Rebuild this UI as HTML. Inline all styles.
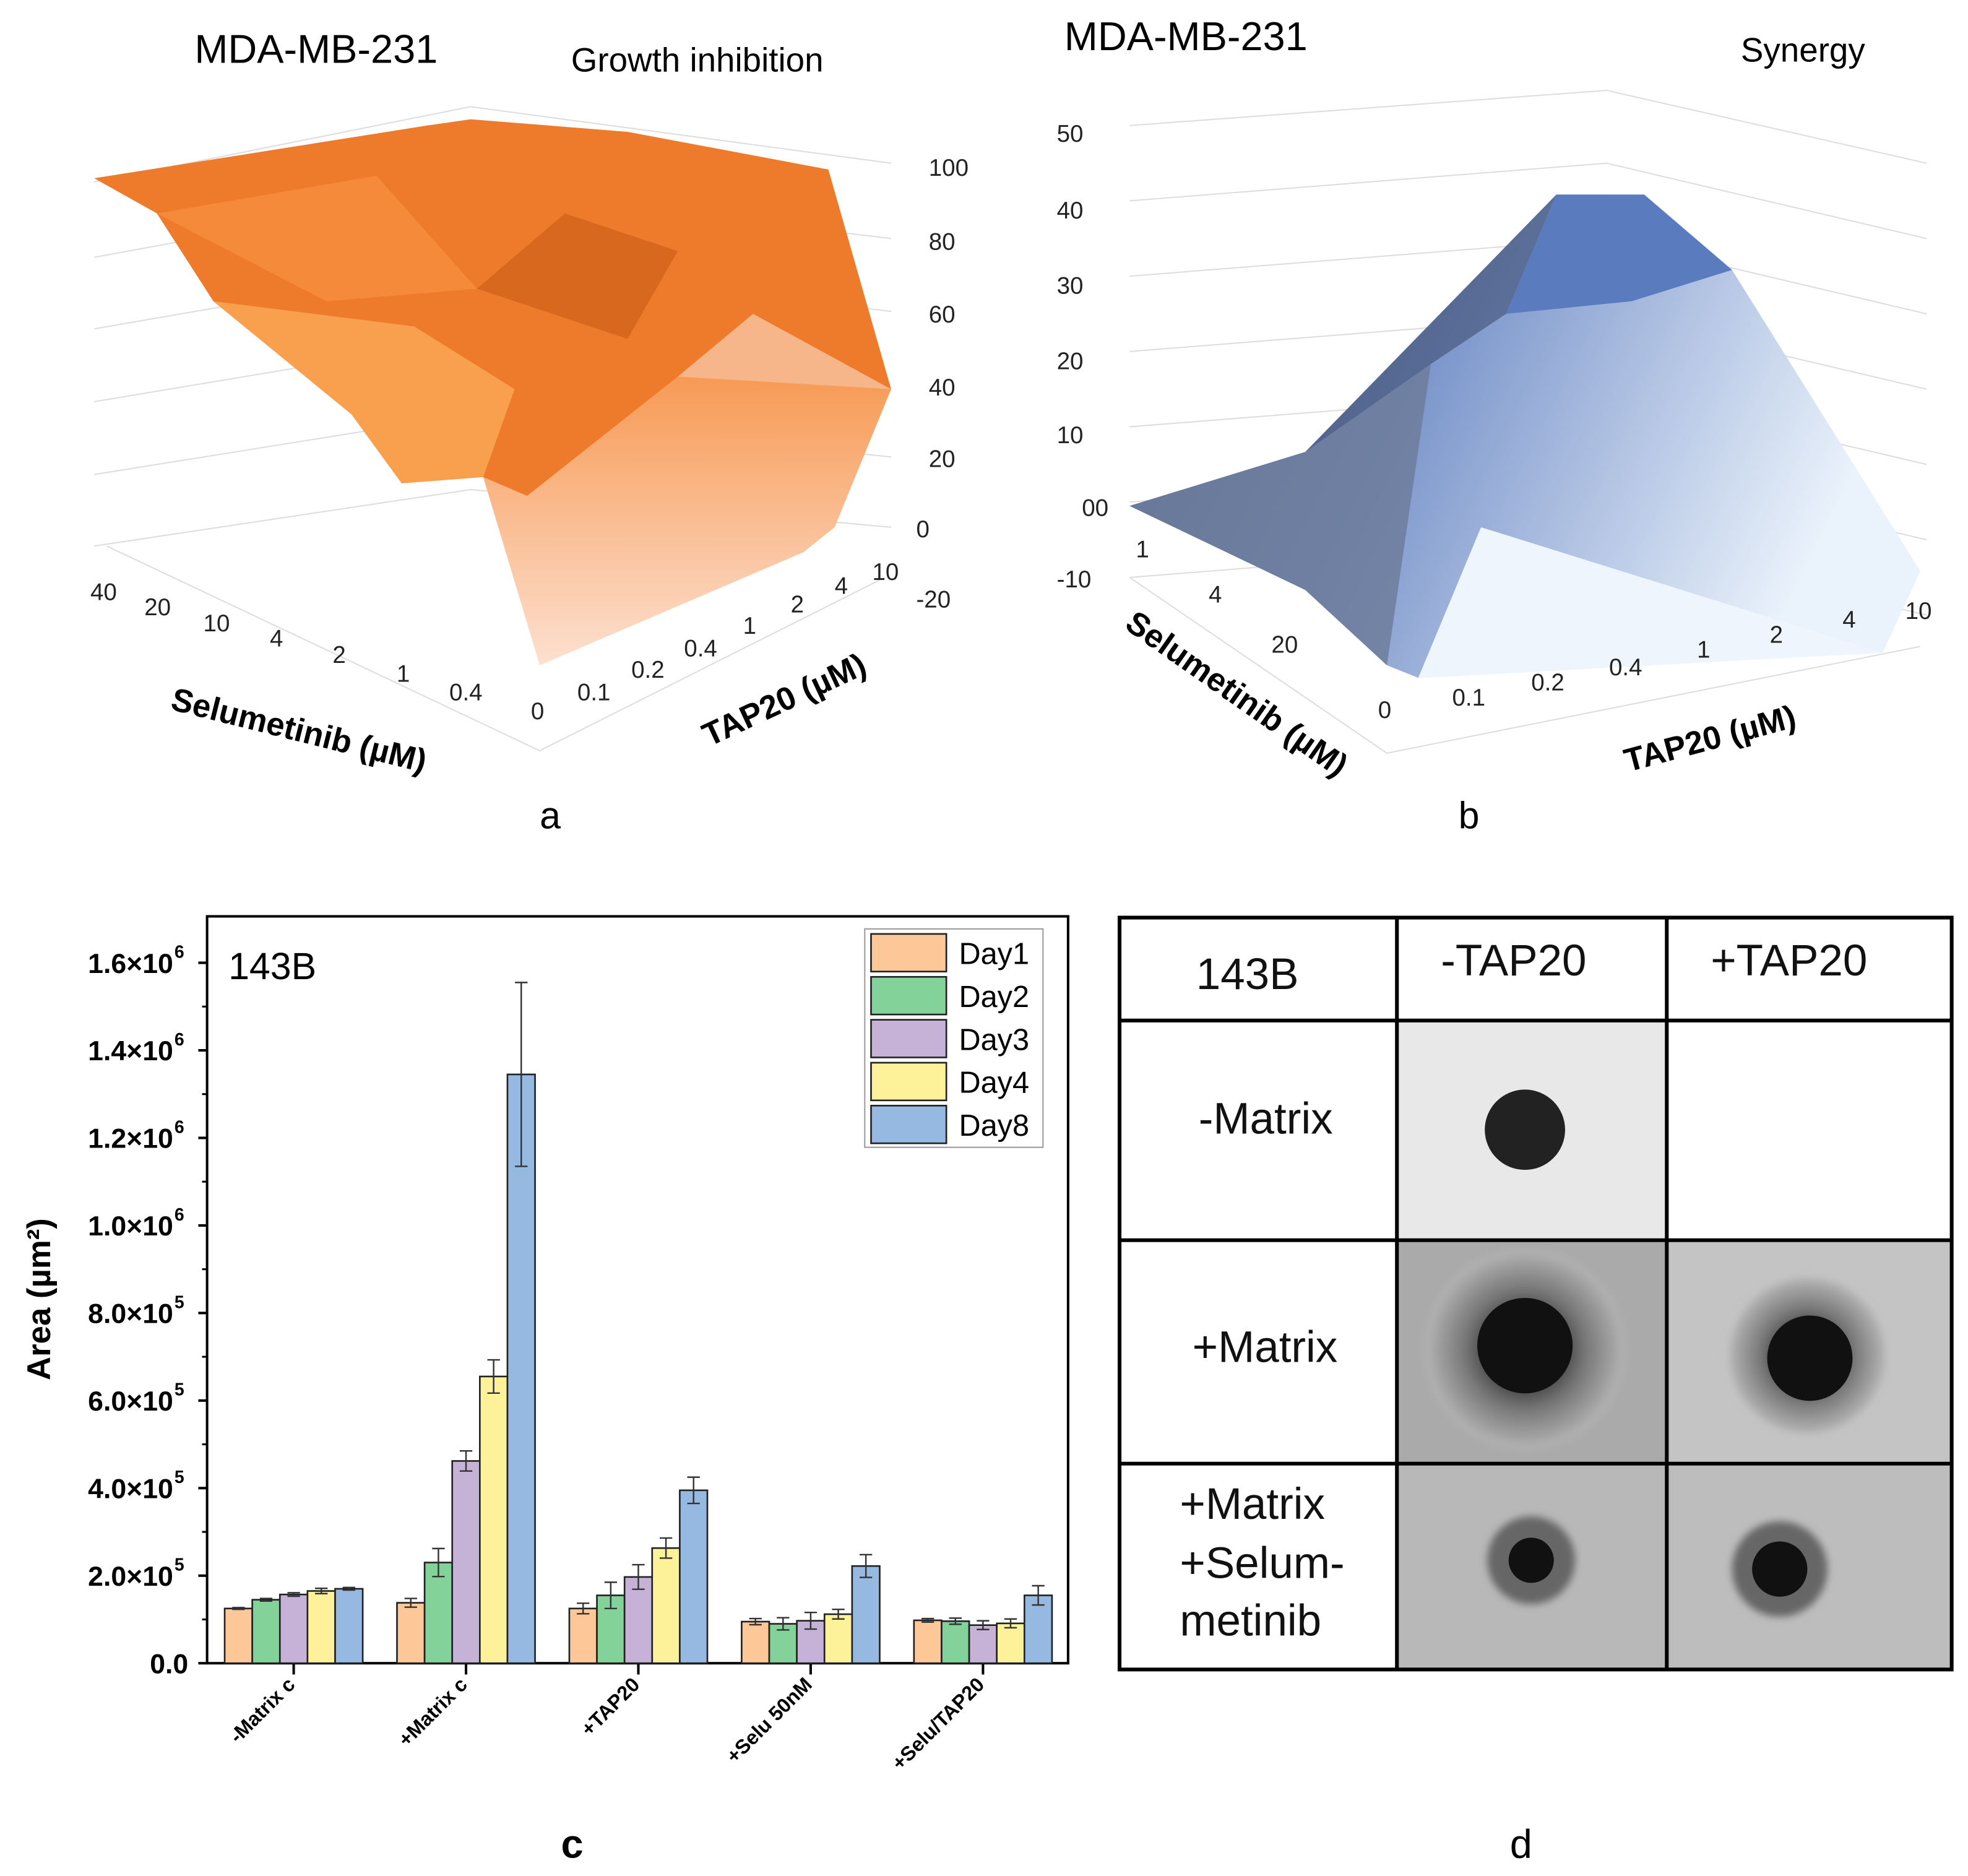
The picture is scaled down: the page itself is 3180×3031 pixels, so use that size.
<!DOCTYPE html>
<html><head><meta charset="utf-8"><style>html,body{margin:0;padding:0;background:#fff}svg{display:block}text{font-family:"Liberation Sans",sans-serif}</style></head>
<body>
<svg id="fig" xmlns="http://www.w3.org/2000/svg" width="3180" height="3031" viewBox="0 0 1568 1494.5">
<defs>
<linearGradient id="og" x1="0" y1="0" x2="0" y2="1"><stop offset="0" stop-color="#f79a55"/><stop offset="1" stop-color="#fde0d0"/></linearGradient>
<linearGradient id="bg" x1="0" y1="0" x2="1" y2="0.3"><stop offset="0" stop-color="#4a5a7a"/><stop offset="0.45" stop-color="#7d97cc"/><stop offset="1" stop-color="#eaf2fb"/></linearGradient>
<radialGradient id="halo1"><stop offset="0.3" stop-color="#333"/><stop offset="0.6" stop-color="#777"/><stop offset="1" stop-color="#b5b5b5"/></radialGradient>
<filter id="blur"><feGaussianBlur stdDeviation="3"/></filter>
</defs>

<!-- Panel a -->
<g>
<g stroke="#ddd" stroke-width="1" fill="none">
<polyline points="75,145 375,85 710,130"/>
<polyline points="75,205 375,150 710,190"/>
<polyline points="75,262 375,210 710,248"/>
<polyline points="75,320 375,270 710,306"/>
<polyline points="75,378 375,330 710,364"/>
<polyline points="75,435 375,390 710,420"/>
<polyline points="85,435 430,598 705,460"/>
</g>
<polygon points="430,530 385,380 540,300 710,310 665,420 640,440" fill="url(#og)"/>
<polygon points="75,142 340,100 375,95 500,105 660,135 710,310 540,300 420,395 385,380 320,385 280,330 170,240 125,170" fill="#ee7b2b"/>
<polygon points="170,240 280,330 320,385 385,380 410,310 330,260" fill="#f9a04f"/>
<polygon points="380,230 450,170 540,200 500,270" fill="#d9681f"/>
<polygon points="125,170 300,140 380,230 260,240" fill="#f48a3a"/>
<polygon points="540,300 600,250 710,310" fill="#f7b58a"/>
<text x="155" y="50" font-size="32">MDA-MB-231</text>
<text x="455" y="57" font-size="27">Growth inhibition</text>
<g font-size="19" fill="#222">
<text x="740" y="140">100</text><text x="740" y="199">80</text><text x="740" y="257">60</text><text x="740" y="315">40</text><text x="740" y="372">20</text><text x="730" y="428">0</text><text x="730" y="484">-20</text>
<text x="72" y="478">40</text><text x="115" y="490">20</text><text x="162" y="503">10</text><text x="215" y="515">4</text><text x="265" y="528">2</text><text x="316" y="543">1</text><text x="358" y="558">0.4</text><text x="423" y="573">0</text>
<text x="460" y="558">0.1</text><text x="503" y="540">0.2</text><text x="545" y="523">0.4</text><text x="592" y="505">1</text><text x="630" y="488">2</text><text x="665" y="473">4</text><text x="695" y="462">10</text>
</g>
<text x="135" y="565" font-size="26" font-weight="bold" transform="rotate(14 135 565)">Selumetinib (µM)</text>
<text x="565" y="595" font-size="26" font-weight="bold" transform="rotate(-25 565 595)">TAP20 (µM)</text>
<text x="430" y="660" font-size="30" font-family="Liberation Serif">a</text>
</g>

<!-- Panel b -->
<g>
<g stroke="#ddd" stroke-width="1" fill="none">
<polyline points="900,100 1280,72 1535,130"/>
<polyline points="900,160 1280,130 1535,190"/>
<polyline points="900,220 1280,190 1535,250"/>
<polyline points="900,280 1280,250 1535,310"/>
<polyline points="900,340 1280,310 1535,370"/>
<polyline points="900,400 1280,370 1535,430"/>
<polyline points="900,460 1280,430 1535,490"/>
<polyline points="900,460 1105,600 1530,515"/>
</g>
<polygon points="900,403 1040,360 1240,155 1310,155 1380,215 1530,455 1500,520 1130,540 1105,530 1040,470" fill="url(#bg)"/>
<polygon points="900,403 1040,360 1140,290 1105,530 1040,470" fill="#6c7a98" opacity="0.8"/>
<polygon points="1040,360 1240,155 1200,250 1140,290" fill="#3f4f72" opacity="0.6"/>
<polygon points="1240,155 1310,155 1380,215 1300,240 1200,250" fill="#5a7cbf"/>
<polygon points="1130,540 1180,420 1500,520" fill="#eef5fc"/>
<text x="848" y="40" font-size="32">MDA-MB-231</text>
<text x="1387" y="49" font-size="27">Synergy</text>
<g font-size="19" fill="#222">
<text x="842" y="113">50</text><text x="842" y="174">40</text><text x="842" y="234">30</text><text x="842" y="294">20</text><text x="842" y="353">10</text><text x="862" y="411">00</text><text x="842" y="468">-10</text>
<text x="905" y="444">1</text><text x="963" y="480">4</text><text x="1013" y="520">20</text><text x="1098" y="572">0</text>
<text x="1157" y="562">0.1</text><text x="1220" y="550">0.2</text><text x="1282" y="538">0.4</text><text x="1352" y="524">1</text><text x="1410" y="512">2</text><text x="1468" y="500">4</text><text x="1518" y="493">10</text>
</g>
<text x="895" y="500" font-size="26" font-weight="bold" transform="rotate(35 895 500)">Selumetinib (µM)</text>
<text x="1297" y="615" font-size="26" font-weight="bold" transform="rotate(-15 1297 615)">TAP20 (µM)</text>
<text x="1162" y="660" font-size="30" font-family="Liberation Serif">b</text>
</g>

<!-- Panel c -->
<g id="barchart">
<rect x="165" y="730" width="686" height="595" fill="none" stroke="#000" stroke-width="2"/>
<text x="182" y="780" font-size="30">143B</text>
<text x="40" y="1035" font-size="26" font-weight="bold" transform="rotate(-90 40 1035)" text-anchor="middle">Area (µm²)</text>
<g id="yticks"></g><g id="bars"></g><g id="xlabels"></g>
<g>
<rect x="689" y="740" width="142" height="174" fill="#fff" stroke="#999"/>
<g id="legend"></g>
</g>
<text x="447" y="1480" font-size="32" font-weight="bold" font-family="Liberation Serif">c</text>
</g>

<!-- Panel d -->
<g>
<rect x="1113" y="813" width="215" height="175" fill="#e8e8e8"/>
<circle cx="1215" cy="900" r="32" fill="#222"/>
<rect x="1113" y="988" width="215" height="178" fill="#aaa"/>
<circle cx="1215" cy="1075" r="80" fill="url(#halo1)" filter="url(#blur)"/>
<circle cx="1215" cy="1072" r="38" fill="#111"/>
<rect x="1328" y="988" width="227" height="178" fill="#c4c4c4"/>
<circle cx="1440" cy="1080" r="62" fill="url(#halo1)" filter="url(#blur)"/>
<circle cx="1442" cy="1082" r="34" fill="#111"/>
<rect x="1113" y="1166" width="215" height="164" fill="#b8b8b8"/>
<circle cx="1220" cy="1243" r="35" fill="#666" filter="url(#blur)"/>
<circle cx="1220" cy="1243" r="18" fill="#111"/>
<rect x="1328" y="1166" width="227" height="164" fill="#bdbdbd"/>
<circle cx="1418" cy="1250" r="38" fill="#666" filter="url(#blur)"/>
<circle cx="1418" cy="1250" r="22" fill="#111"/>
<g stroke="#000" stroke-width="3" fill="none">
<rect x="892" y="731" width="663" height="599"/>
<line x1="1113" y1="731" x2="1113" y2="1330"/><line x1="1328" y1="731" x2="1328" y2="1330"/>
<line x1="892" y1="813" x2="1555" y2="813"/><line x1="892" y1="988" x2="1555" y2="988"/><line x1="892" y1="1166" x2="1555" y2="1166"/>
</g>
<g font-size="35" fill="#111">
<text x="953" y="788">143B</text><text x="1148" y="777">-TAP20</text><text x="1363" y="777">+TAP20</text>
<text x="955" y="903">-Matrix</text><text x="950" y="1085">+Matrix</text>
<text x="940" y="1210">+Matrix</text><text x="940" y="1257">+Selum-</text><text x="940" y="1303">metinib</text>
</g>
<text x="1203" y="1480" font-size="32" font-family="Liberation Serif">d</text>
</g>
</svg>
<script>
const categories = ["-Matrix c","+Matrix c","+TAP20","+Selu 50nM","+Selu/TAP20"];
const seriesNames = ["Day1","Day2","Day3","Day4","Day8"];
const day1 = [1.25,1.38,1.25,0.95,0.98];
const day2 = [1.45,2.30,1.55,0.90,0.96];
const day3 = [1.57,4.62,1.97,0.97,0.87];
const day4 = [1.65,6.55,2.63,1.12,0.91];
const day8 = [1.70,13.45,3.95,2.22,1.55];
const err1 = [0.02,0.10,0.12,0.07,0.04];
const err2 = [0.03,0.32,0.30,0.14,0.07];
const err3 = [0.04,0.23,0.28,0.19,0.10];
const err4 = [0.06,0.38,0.23,0.11,0.10];
const err8 = [0.03,2.10,0.30,0.26,0.22];
const yTickLabels = ["0.0","2.0×10","4.0×10","6.0×10","8.0×10","1.0×10","1.2×10","1.4×10","1.6×10"];
const yTickExp = ["","5","5","5","5","6","6","6","6"];
const colors = ["#fdc797","#83d29a","#c7b2d7","#fdf29a","#96b9e2"];
const NS="http://www.w3.org/2000/svg";
const y0=1325, pxPerUnit=(1325-767)/16;
const yS=v=>y0-v*pxPerUnit;
const groupX=i=>234+i*137.3;
const barW=22;
function mk(t,a,p){const e=document.createElementNS(NS,t);for(const k in a)e.setAttribute(k,a[k]);p.appendChild(e);return e;}
const yt=document.getElementById('yticks');
yTickLabels.forEach((l,i)=>{const y=yS(i*2);
 const ln=mk('line',{x1:158,x2:165,y1:y,y2:y,stroke:'#000','stroke-width':2},yt);
 
 
 if(i<8)mk('line',{x1:161,x2:165,y1:yS(i*2+1),y2:yS(i*2+1),stroke:'#000','stroke-width':1.5},yt);
 const t=mk('text',{x:150,y:y+8,'font-size':22,'font-weight':'bold','text-anchor':'end'},yt);
 
 
 t.textContent=l;
 if(yTickExp[i]){t.setAttribute('x',138);const s=mk('text',{x:139,y:y-4,'font-size':14,'font-weight':'bold'},yt);s.textContent=yTickExp[i];}
});
const series=[day1,day2,day3,day4,day8], errs=[err1,err2,err3,err4,err8];
const bg=document.getElementById('bars');
categories.forEach((c,i)=>{
 const gx=groupX(i);
 const tk=mk('line',{x1:gx,x2:gx,y1:1325,y2:1334,stroke:'#000','stroke-width':2},bg);
 
 
 series.forEach((s,j)=>{
  const x=gx-2.5*barW+j*barW, v=s[i];
  const r=mk('rect',{x:x,y:yS(v),width:barW,height:y0-yS(v),fill:colors[j],stroke:'#222','stroke-width':1.3},bg);
  
  
  const e=errs[j][i], cx=x+barW/2;
  mk('path',{d:`M${cx},${yS(v+e)}V${yS(v-e)}M${cx-5},${yS(v+e)}H${cx+5}M${cx-5},${yS(v-e)}H${cx+5}`,stroke:'#333','stroke-width':1.2,fill:'none'},bg);
 });
 const t=mk('text',{x:gx+2,y:1343,'font-size':16,'font-weight':'bold','text-anchor':'end',transform:`rotate(-45 ${gx+2} 1343)`},document.getElementById('xlabels'));
 
 
 t.textContent=c;
});
const lg=document.getElementById('legend');
seriesNames.forEach((n,j)=>{const y=744+j*34.2;
 const r=mk('rect',{x:694,y:y,width:60,height:30,fill:colors[j],stroke:'#222','stroke-width':1.3},lg);
 
 
 const t=mk('text',{x:764,y:y+24,'font-size':24},lg);t.textContent=n;
});
</script>
</body></html>
